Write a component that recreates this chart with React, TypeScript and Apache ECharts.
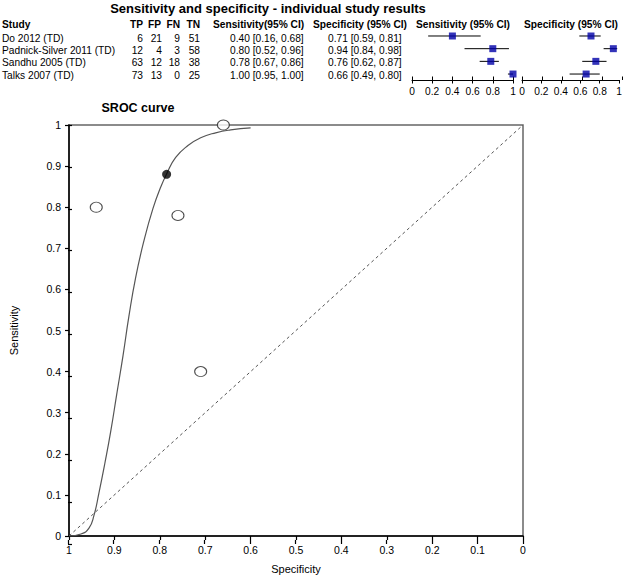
import React, { useEffect, useRef } from "react";
import * as echarts from "echarts";

const studies = ["Do 2012 (TD)", "Padnick-Silver 2011 (TD)", "Sandhu 2005 (TD)", "Talks 2007 (TD)"];
const tp = [6, 12, 63, 73];
const fp = [21, 4, 12, 13];
const fn = [9, 3, 18, 0];
const tn = [51, 58, 38, 25];
const sens = [0.4, 0.8, 0.78, 1.0];
const sensLo = [0.16, 0.52, 0.67, 0.95];
const sensHi = [0.68, 0.96, 0.86, 1.0];
const spec = [0.71, 0.94, 0.76, 0.66];
const specLo = [0.59, 0.84, 0.62, 0.49];
const specHi = [0.81, 0.98, 0.87, 0.8];
const summaryPoint = [0.785, 0.88];
const curveSpec = [1.0, 0.9736, 0.956, 0.945, 0.934, 0.921, 0.908, 0.895, 0.881, 0.868, 0.853, 0.835, 0.815, 0.798, 0.785, 0.765, 0.738, 0.71, 0.677, 0.644, 0.6];
const curveSens = [0.0, 0.0048, 0.019, 0.05, 0.105, 0.177, 0.255, 0.344, 0.439, 0.535, 0.63, 0.718, 0.797, 0.849, 0.881, 0.921, 0.95, 0.969, 0.981, 0.988, 0.993];

const FONT = "Arial, 'Liberation Sans', Helvetica, sans-serif";
const FS = 10.2;

function txt(text: string, x: number, y: number, size: number, align: string, bold = false) {
  return {
    type: "text",
    style: {
      text,
      x,
      y,
      font: `${bold ? "bold " : ""}${size}px ${FONT}`,
      fill: "#000",
      textAlign: align,
      textVerticalAlign: "middle",
      align,
      verticalAlign: "middle",
    },
  };
}

export default function App() {
  const ref = useRef<HTMLDivElement>(null);
  useEffect(() => {
    if (!ref.current) return;
    const chart = echarts.init(ref.current, null, { renderer: "svg" });
    const rowY = [38, 50.5, 62.5, 75];
    const fmt = (v: number, lo: number, hi: number) => `${v.toFixed(2)} [${lo.toFixed(2)}, ${hi.toFixed(2)}]`;
    const graphics: any[] = [];
    graphics.push(txt("Sensitivity and specificity - individual study results", 268, 8, 13, "center", true));
    graphics.push(txt("Study", 2, 24, FS, "left", true));
    graphics.push(txt("TP", 143, 24, FS, "right", true));
    graphics.push(txt("FP", 161, 24, FS, "right", true));
    graphics.push(txt("FN", 180, 24, FS, "right", true));
    graphics.push(txt("TN", 200, 24, FS, "right", true));
    graphics.push(txt("Sensitivity(95% CI)", 213, 24, FS, "left", true));
    graphics.push(txt("Specificity (95% CI)", 313, 24, FS, "left", true));
    graphics.push(txt("Sensitivity (95% CI)", 463, 24, FS, "center", true));
    graphics.push(txt("Specificity (95% CI)", 571, 24, FS, "center", true));
    studies.forEach((s, i) => {
      const y = rowY[i];
      graphics.push(txt(s, 2, y, FS, "left"));
      graphics.push(txt(String(tp[i]), 143, y, FS, "right"));
      graphics.push(txt(String(fp[i]), 162, y, FS, "right"));
      graphics.push(txt(String(fn[i]), 180, y, FS, "right"));
      graphics.push(txt(String(tn[i]), 200, y, FS, "right"));
      graphics.push(txt(fmt(sens[i], sensLo[i], sensHi[i]), 230, y, FS, "left"));
      graphics.push(txt(fmt(spec[i], specLo[i], specHi[i]), 328, y, FS, "left"));
    });
    graphics.push(txt("SROC curve", 138, 108, 12.5, "center", true));

    const forestX = (gi: number, inner: boolean) => ({
      type: "value",
      gridIndex: gi,
      min: 0,
      max: 1,
      interval: 0.2,
      position: "bottom",
      axisLine: { show: !inner, onZero: false, lineStyle: { color: "#000", width: 1 } },
      axisTick: { show: true, inside: inner, length: 3.5, lineStyle: { color: "#000", width: 1 } },
      axisLabel: { show: !inner, color: "#000", fontSize: FS, fontFamily: FONT, margin: 6 },
      splitLine: { show: false },
    });
    const srocX = (gi: number, inner: boolean) => ({
      type: "value",
      gridIndex: gi,
      min: 0,
      max: 1,
      interval: 0.1,
      inverse: true,
      position: "bottom",
      name: inner ? "" : "Specificity",
      nameLocation: "middle",
      nameGap: 27,
      nameTextStyle: { color: "#000", fontSize: 11, fontFamily: FONT },
      axisLine: { show: !inner, onZero: false, lineStyle: { color: "#000", width: 1.5 } },
      axisTick: { show: true, inside: inner, length: 4, lineStyle: { color: "#000", width: 1.2 } },
      axisLabel: { show: !inner, color: "#000", fontSize: 10.5, fontFamily: FONT, margin: 8 },
      splitLine: { show: false },
    });
    const srocY = (gi: number, inner: boolean) => ({
      type: "value",
      gridIndex: gi,
      min: 0,
      max: 1,
      interval: 0.1,
      position: "left",
      name: inner ? "" : "Sensitivity",
      nameLocation: "middle",
      nameGap: 50,
      nameRotate: 90,
      nameTextStyle: { color: "#000", fontSize: 11, fontFamily: FONT },
      axisLine: { show: !inner, onZero: false, lineStyle: { color: "#000", width: 1.5 } },
      axisTick: { show: true, inside: inner, length: 4, lineStyle: { color: "#000", width: 1.2 } },
      axisLabel: { show: !inner, color: "#000", fontSize: 10.5, fontFamily: FONT, margin: 8 },
      splitLine: { show: false },
    });
    const hiddenY = (gi: number) => ({
      type: "value",
      gridIndex: gi,
      min: -0.63,
      max: 3.47,
      inverse: true,
      show: false,
      axisLine: { onZero: false },
    });

    const ciRender = (params: any, api: any) => {
      const lo = api.value(0);
      const hi = api.value(1);
      const y = api.value(2);
      const p1 = api.coord([lo, y]);
      const p2 = api.coord([hi, y]);
      return {
        type: "line",
        shape: { x1: p1[0], y1: p1[1], x2: p2[0], y2: p2[1] },
        style: { stroke: "#000", lineWidth: 1 },
      };
    };

    const fsRect = { left: 412, width: 101, top: 28, height: 52 };
    const fpRect = { left: 522, width: 100, top: 28, height: 52 };
    const srRect = { left: 68, width: 455, top: 125, height: 419 };

    const option: any = {
      animation: false,
      backgroundColor: "#fff",
      textStyle: { fontFamily: FONT },
      grid: [
        { ...fsRect, show: false },
        { ...fpRect, show: false },
        { ...srRect, show: true, borderColor: "#666", borderWidth: 1.5, backgroundColor: "transparent" },
        { ...srRect, show: false },
        { ...fsRect, show: false },
        { ...fpRect, show: false },
      ],
      xAxis: [forestX(0, false), forestX(4, true), forestX(1, false), forestX(5, true), srocX(2, false), srocX(3, true)],
      yAxis: [hiddenY(0), hiddenY(1), srocY(2, false), srocY(3, true), hiddenY(4), hiddenY(5)],
      graphic: graphics,
      series: [
        {
          type: "custom",
          xAxisIndex: 0,
          yAxisIndex: 0,
          renderItem: ciRender,
          encode: { x: [0, 1], y: 2 },
          data: studies.map((_, i) => [sensLo[i], sensHi[i], i]),
          clip: false,
        },
        {
          type: "scatter",
          xAxisIndex: 0,
          yAxisIndex: 0,
          symbol: "rect",
          symbolSize: 7,
          itemStyle: { color: "#0000a8" },
          data: studies.map((_, i) => [sens[i], i]),
          clip: false,
          z: 5,
        },
        {
          type: "custom",
          xAxisIndex: 2,
          yAxisIndex: 1,
          renderItem: ciRender,
          encode: { x: [0, 1], y: 2 },
          data: studies.map((_, i) => [specLo[i], specHi[i], i]),
          clip: false,
        },
        {
          type: "scatter",
          xAxisIndex: 2,
          yAxisIndex: 1,
          symbol: "rect",
          symbolSize: 7,
          itemStyle: { color: "#0000a8" },
          data: studies.map((_, i) => [spec[i], i]),
          clip: false,
          z: 5,
        },
        {
          type: "line",
          xAxisIndex: 4,
          yAxisIndex: 2,
          data: [[1, 0], [0, 1]],
          showSymbol: false,
          symbol: "none",
          lineStyle: { color: "#555", width: 1, type: [3, 3] },
        },
        {
          type: "line",
          xAxisIndex: 4,
          yAxisIndex: 2,
          data: curveSpec.map((s, i) => [s, curveSens[i]]),
          smooth: true,
          showSymbol: false,
          symbol: "none",
          lineStyle: { color: "#555", width: 1.2 },
        },
        {
          type: "scatter",
          xAxisIndex: 4,
          yAxisIndex: 2,
          symbol: "circle",
          symbolSize: [12, 10],
          itemStyle: { color: "#fff", borderColor: "#222", borderWidth: 1 },
          data: studies.map((_, i) => [spec[i], sens[i]]),
          clip: false,
          z: 5,
        },
        {
          type: "scatter",
          xAxisIndex: 4,
          yAxisIndex: 2,
          symbol: "circle",
          symbolSize: 9,
          itemStyle: { color: "#000" },
          data: [summaryPoint],
          clip: false,
          z: 6,
        },
      ],
    };
    chart.setOption(option);
    return () => chart.dispose();
  }, []);
  return <div ref={ref} style={{ position: "fixed", left: 0, top: 0, width: 625, height: 579 }} />;
}
